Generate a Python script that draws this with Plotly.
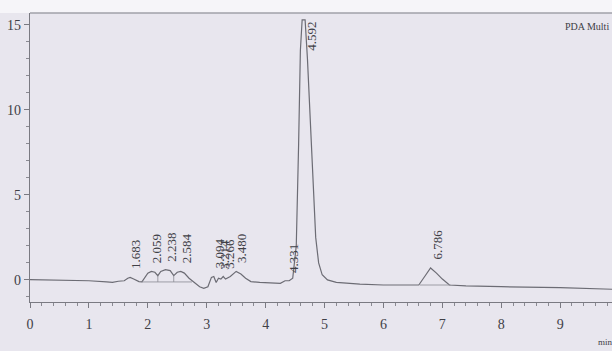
import plotly.graph_objects as go

# ---- data ----
time = [0.00, 0.50, 1.00, 1.30, 1.40, 1.50, 1.60, 1.66, 1.70, 1.76, 1.85, 1.90, 1.95, 2.00,
        2.06, 2.12, 2.17, 2.22, 2.30, 2.38, 2.44, 2.50, 2.56, 2.62, 2.70, 2.78, 2.88, 2.95,
        3.02, 3.08, 3.12, 3.16, 3.20, 3.24, 3.28, 3.32, 3.40, 3.50, 3.58, 3.66, 3.75, 3.90,
        4.10, 4.25, 4.33, 4.40, 4.46, 4.52, 4.56, 4.59, 4.62, 4.67, 4.71, 4.76, 4.81, 4.85,
        4.90, 4.96, 5.05, 5.20, 5.60, 6.00, 6.40, 6.60, 6.70, 6.80, 6.90, 7.00, 7.12, 7.40,
        8.00, 9.00, 9.88]
signal = [0.02, 0.00, -0.05, -0.12, -0.15, -0.08, -0.05, 0.10, 0.15, 0.05, -0.10, -0.12, 0.15, 0.40,
          0.50, 0.45, 0.25, 0.50, 0.60, 0.55, 0.25, 0.45, 0.50, 0.40, 0.10, -0.10, -0.40, -0.50,
          -0.40, 0.15, 0.20, -0.15, 0.10, 0.05, 0.20, 0.05, 0.20, 0.50, 0.35, 0.10, -0.10, -0.15,
          -0.18, -0.20, -0.05, -0.05, 0.10, 2.0, 8.0, 13.5, 15.3, 15.3, 13.0, 9.0, 5.0, 2.5,
          1.0, 0.30, 0.00, -0.15, -0.25, -0.30, -0.30, -0.30, 0.20, 0.70, 0.40, 0.05, -0.30, -0.35,
          -0.40, -0.45, -0.55]

# integration baselines / drop lines (None separates segments)
base_t = [1.90, 2.75, None, 2.17, 2.17, None, 2.44, 2.44, None, 6.62, 7.14]
base_y = [-0.12, -0.12, None, -0.12, 0.25, None, -0.12, 0.25, None, -0.30, -0.30]

peak_label = ["1.683", "2.059", "2.238", "2.584", "3.094", "3.214", "3.266", "3.480",
              "4.331", "4.592", "6.786"]
peak_time = [1.70, 2.06, 2.30, 2.56, 3.12, 3.20, 3.28, 3.50, 4.36, 4.64, 6.80]
peak_height = [0.15, 0.50, 0.60, 0.50, 0.20, 0.10, 0.20, 0.50, -0.05, 15.3, 0.70]

x_ticks = [0, 1, 2, 3, 4, 5, 6, 7, 8, 9]
y_ticks = [0, 5, 10, 15]

BG = "#e8e6ee"
LINE = "#6c6c74"
TXT = "#404046"
FONT = "Liberation Serif"

fig = go.Figure()
fig.add_trace(go.Scatter(x=time, y=signal, mode="lines",
                         line=dict(color=LINE, width=1.2), hoverinfo="skip",
                         showlegend=False, cliponaxis=True))
fig.add_trace(go.Scatter(x=base_t, y=base_y, mode="lines",
                         line=dict(color="#8a8a92", width=0.8), hoverinfo="skip",
                         showlegend=False))

for lab, t, h in zip(peak_label, peak_time, peak_height):
    top = h > 10
    fig.add_annotation(x=t, y=h, text=lab, showarrow=False, textangle=-90,
                       xanchor="center", yanchor="top" if top else "bottom",
                       xshift=8 if top else 6, yshift=0 if top else 6,
                       font=dict(family=FONT, size=13, color=TXT))

fig.add_annotation(xref="paper", yref="paper", x=(563 - 30) / 582, y=(302 - 26) / 289,
                   text="PDA Multi", showarrow=False, xanchor="left", yanchor="middle",
                   font=dict(family=FONT, size=10, color=TXT))
fig.add_annotation(xref="paper", yref="paper", x=(596 - 30) / 582, y=(302 - 342) / 289,
                   text="min", showarrow=False, xanchor="left", yanchor="middle",
                   font=dict(family=FONT, size=9, color=TXT))

# white scan strip on top with edge line
fig.add_shape(type="rect", xref="paper", yref="paper", x0=-0.1, x1=1.1, y0=1.0, y1=1.1,
              fillcolor="#f6f5f9", line=dict(width=0), layer="above")
fig.add_shape(type="line", xref="paper", yref="paper", x0=0, x1=1.1, y0=1.0, y1=1.0,
              line=dict(color="#a0a0a8", width=1.5), layer="above")

fig.update_layout(
    width=612, height=351,
    margin=dict(l=30, r=0, t=13, b=49),
    paper_bgcolor=BG, plot_bgcolor=BG,
    xaxis=dict(range=[0, 9.88], tickvals=x_ticks, ticks="outside", ticklen=5,
               tickcolor="#7a7a82", showline=True, linecolor="#7a7a82", linewidth=1.2,
               showgrid=False, zeroline=False, ticklabelstandoff=4,
               minor=dict(dtick=0.2, ticks="outside", ticklen=3, tickcolor="#8a8a92"),
               tickfont=dict(family=FONT, size=14, color=TXT)),
    yaxis=dict(range=[-1.3, 15.7], tickvals=y_ticks, ticks="outside", ticklen=5,
               tickcolor="#7a7a82", showline=True, linecolor="#7a7a82", linewidth=1.2,
               showgrid=False, zeroline=False,
               minor=dict(dtick=1, ticks="outside", ticklen=3, tickcolor="#8a8a92"),
               tickfont=dict(family=FONT, size=14, color=TXT)),
)

fig.write_html("out.html")
